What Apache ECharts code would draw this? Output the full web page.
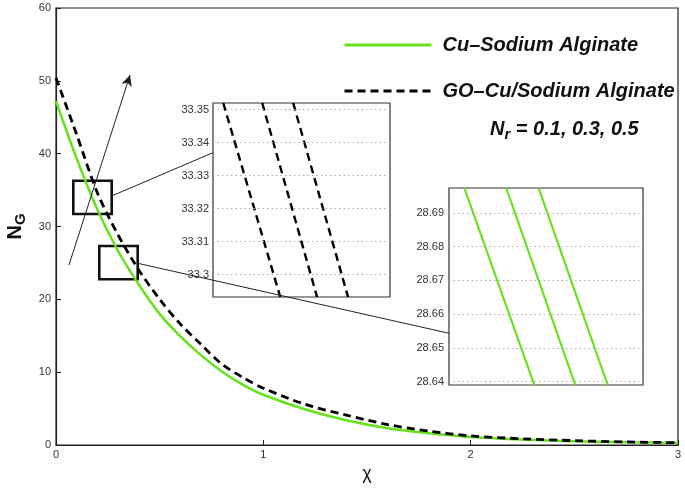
<!DOCTYPE html>
<html>
<head>
<meta charset="utf-8">
<script src="https://cdn.jsdelivr.net/npm/echarts@6/dist/echarts.min.js"></script>
<style>
  html, body { margin: 0; padding: 0; background: #fff; }
  #chart { width: 685px; height: 488px; }
</style>
</head>
<body>
<div id="chart"></div>
<script>
// main curves
var chiVals = [0, 0.1, 0.2, 0.3, 0.4, 0.5, 0.6, 0.7, 0.8, 0.9, 1.0, 1.2, 1.4, 1.6, 1.8, 2.0, 2.25, 2.5, 2.75, 3.0];
var cuVals = [47.2, 39.3, 32.3, 26.6, 22.0, 18.0, 14.9, 12.3, 10.1, 8.3, 6.9, 4.9, 3.4, 2.3, 1.6, 1.1, 0.75, 0.5, 0.38, 0.3];
var goVals = [50.4, 42.6, 34.6, 28.8, 24.0, 20.0, 16.6, 13.8, 11.1, 9.3, 7.8, 5.6, 4.1, 2.8, 1.9, 1.25, 0.85, 0.6, 0.42, 0.32];

var seriesNames = ['Cu–Sodium Alginate', 'GO–Cu/Sodium Alginate'];

// zoom boxes on the main plot [x0, x1, y0, y1]
var box1 = [0.0834, 0.2686, 31.72, 36.29];
var box2 = [0.2088, 0.394, 22.75, 27.32];
// arrow and connector lines (chi, N_G)
var arrowFrom = [0.0627, 24.71], arrowTo = [0.357, 50.8];
var link1From = [0.2686, 34.19], link1To = [0.756, 40.13];
var link2From = [0.394, 24.95], link2To = [1.8955, 15.34];

// inset 1 (GO-Cu, dashed), x is fraction of inset width
var dashTicks = [33.3, 33.31, 33.32, 33.33, 33.34, 33.35];
var dashRange = [33.2932, 33.352];
var dashTopX = [0.058, 0.278, 0.453];
var dashBotX = [0.38, 0.588, 0.763];

// inset 2 (Cu, solid green)
var greenTicks = [28.64, 28.65, 28.66, 28.67, 28.68, 28.69];
var greenRange = [28.639, 28.6974];
var greenTopX = [0.079, 0.295, 0.462];
var greenBotX = [0.44, 0.651, 0.818];

var GREEN = '#66e21a';
var FONT = "'Liberation Sans', Arial, sans-serif";

function pairs(xs, ys) {
	var out = [];
	for (var i = 0; i < xs.length; i++) { out.push([xs[i], ys[i]]); }
	return out;
}

function insetLines(topX, botX, range, xi, color, type, width) {
	var list = [];
	for (var i = 0; i < topX.length; i++) {
		list.push({
			type: 'line', xAxisIndex: xi, yAxisIndex: xi, silent: true,
			symbol: 'none', clip: true,
			lineStyle: { color: color, width: width, type: type },
			data: [[topX[i], range[1]], [botX[i], range[0]]]
		});
	}
	return list;
}

function gridDots(ticks, xi) {
	return {
		type: 'line', xAxisIndex: xi, yAxisIndex: xi, data: [], silent: true,
		markLine: {
			silent: true, symbol: 'none', label: { show: false },
			lineStyle: { color: '#aaa', width: 1, type: [1.5, 3] },
			data: ticks.map(function (v) { return { yAxis: v }; })
		}
	};
}

function insetY(gi, range, ticks, margin) {
	return {
		gridIndex: gi, type: 'value', min: range[0], max: range[1],
		axisLine: { show: false }, axisTick: { show: false }, splitLine: { show: false },
		axisLabel: {
			customValues: ticks, color: '#333', fontSize: 11, fontFamily: FONT, margin: margin,
			formatter: function (v) { return String(+v.toFixed(2)); }
		}
	};
}

function insetX(gi) {
	return { gridIndex: gi, type: 'value', min: 0, max: 1, show: false };
}

var chart = echarts.init(document.getElementById('chart'));

var series = [
	{
		name: seriesNames[0], type: 'line', smooth: 0.3, symbol: 'none',
		lineStyle: { color: GREEN, width: 2.5 }, itemStyle: { color: GREEN },
		data: pairs(chiVals, cuVals), z: 3
	},
	{
		name: seriesNames[1], type: 'line', smooth: 0.3, symbol: 'none',
		lineStyle: { color: '#000', width: 2.8, type: [8, 5] }, itemStyle: { color: '#000' },
		data: pairs(chiVals, goVals), z: 4
	},
	{
		// boxes, arrow and connectors
		name: 'annot', type: 'line', data: [], silent: true, z: 6,
		markArea: {
			silent: true,
			itemStyle: { color: 'rgba(0,0,0,0)', borderColor: '#111', borderWidth: 2.6 },
			data: [
				[{ coord: [box1[0], box1[3]] }, { coord: [box1[1], box1[2]] }],
				[{ coord: [box2[0], box2[3]] }, { coord: [box2[1], box2[2]] }]
			]
		},
		markLine: {
			silent: true, label: { show: false }, symbol: 'none',
			lineStyle: { color: '#222', width: 1, type: 'solid' },
			data: [
				[{ coord: arrowFrom, symbol: 'none' }, { coord: arrowTo, symbol: 'arrow', symbolSize: [8, 11] }],
				[{ coord: link1From }, { coord: link1To }],
				[{ coord: link2From }, { coord: link2To }]
			]
		}
	},
	gridDots(dashTicks, 1),
	gridDots(greenTicks, 2)
];
series = series.concat(insetLines(dashTopX, dashBotX, dashRange, 1, '#000', [8, 5], 2.4));
series = series.concat(insetLines(greenTopX, greenBotX, greenRange, 2, GREEN, 'solid', 2.2));

var opt = {
	animation: false,
	backgroundColor: '#fff',
	textStyle: { fontFamily: FONT },
	grid: [
		{ left: 56, right: 7, top: 8, bottom: 43, show: true, borderColor: '#222', borderWidth: 1.2, outerBoundsMode: 'none' },
		{ left: 213, top: 103, width: 177, height: 194, show: true, backgroundColor: '#fff', borderColor: '#333', borderWidth: 1.2, outerBoundsMode: 'none' },
		{ left: 449, top: 188, width: 194, height: 197, show: true, backgroundColor: '#fff', borderColor: '#333', borderWidth: 1.2, outerBoundsMode: 'none' }
	],
	xAxis: [
		{
			gridIndex: 0, type: 'value', min: 0, max: 3, interval: 1,
			name: 'χ', nameLocation: 'middle', nameGap: 12,
			nameTextStyle: { fontSize: 18, color: '#111', fontFamily: FONT },
			axisLine: { lineStyle: { color: '#222', width: 1.2 } },
			axisTick: { inside: true, length: 5, lineStyle: { color: '#222' } },
			axisLabel: { color: '#333', fontSize: 11, margin: 4 },
			splitLine: { show: false }
		},
		insetX(1),
		insetX(2)
	],
	yAxis: [
		{
			gridIndex: 0, type: 'value', min: 0, max: 60, interval: 10,
			name: '{n|N}{g|G}', nameLocation: 'middle', nameGap: 28, nameRotate: 90,
			nameTextStyle: {
				rich: {
					n: { fontSize: 20, fontWeight: 'bold', color: '#111', fontFamily: FONT },
					g: { fontSize: 15, fontWeight: 'bold', color: '#111', fontFamily: FONT, padding: [10, 0, 0, 0] }
				}
			},
			axisLine: { lineStyle: { color: '#222', width: 1.2 } },
			axisTick: { inside: true, length: 5, lineStyle: { color: '#222' } },
			axisLabel: { color: '#333', fontSize: 11, margin: 5 },
			splitLine: { show: false }
		},
		insetY(1, dashRange, dashTicks, 4),
		insetY(2, greenRange, greenTicks, 5)
	],
	legend: {
		data: seriesNames, orient: 'vertical', left: 338, top: 30,
		itemWidth: 87, itemHeight: 20, itemGap: 26,
		itemStyle: { opacity: 0 },
		lineStyle: { width: 3 },
		textStyle: { fontSize: 20, fontWeight: 'bold', fontStyle: 'italic', color: '#111', fontFamily: FONT, padding: [0, 0, 0, 6] }
	},
	graphic: [
		{
			type: 'text', left: 490, top: 119, z: 10,
			style: {
				text: '{n|N}{r|r}{n| = 0.1, 0.3, 0.5}',
				rich: {
					n: { fontSize: 20, fontWeight: 'bold', fontStyle: 'italic', fill: '#111', fontFamily: FONT },
					r: { fontSize: 15, fontWeight: 'bold', fontStyle: 'italic', fill: '#111', fontFamily: FONT, padding: [12, 0, 0, 0] }
				}
			}
		}
	],
	series: series
};

chart.setOption(opt);
</script>
</body>
</html>
